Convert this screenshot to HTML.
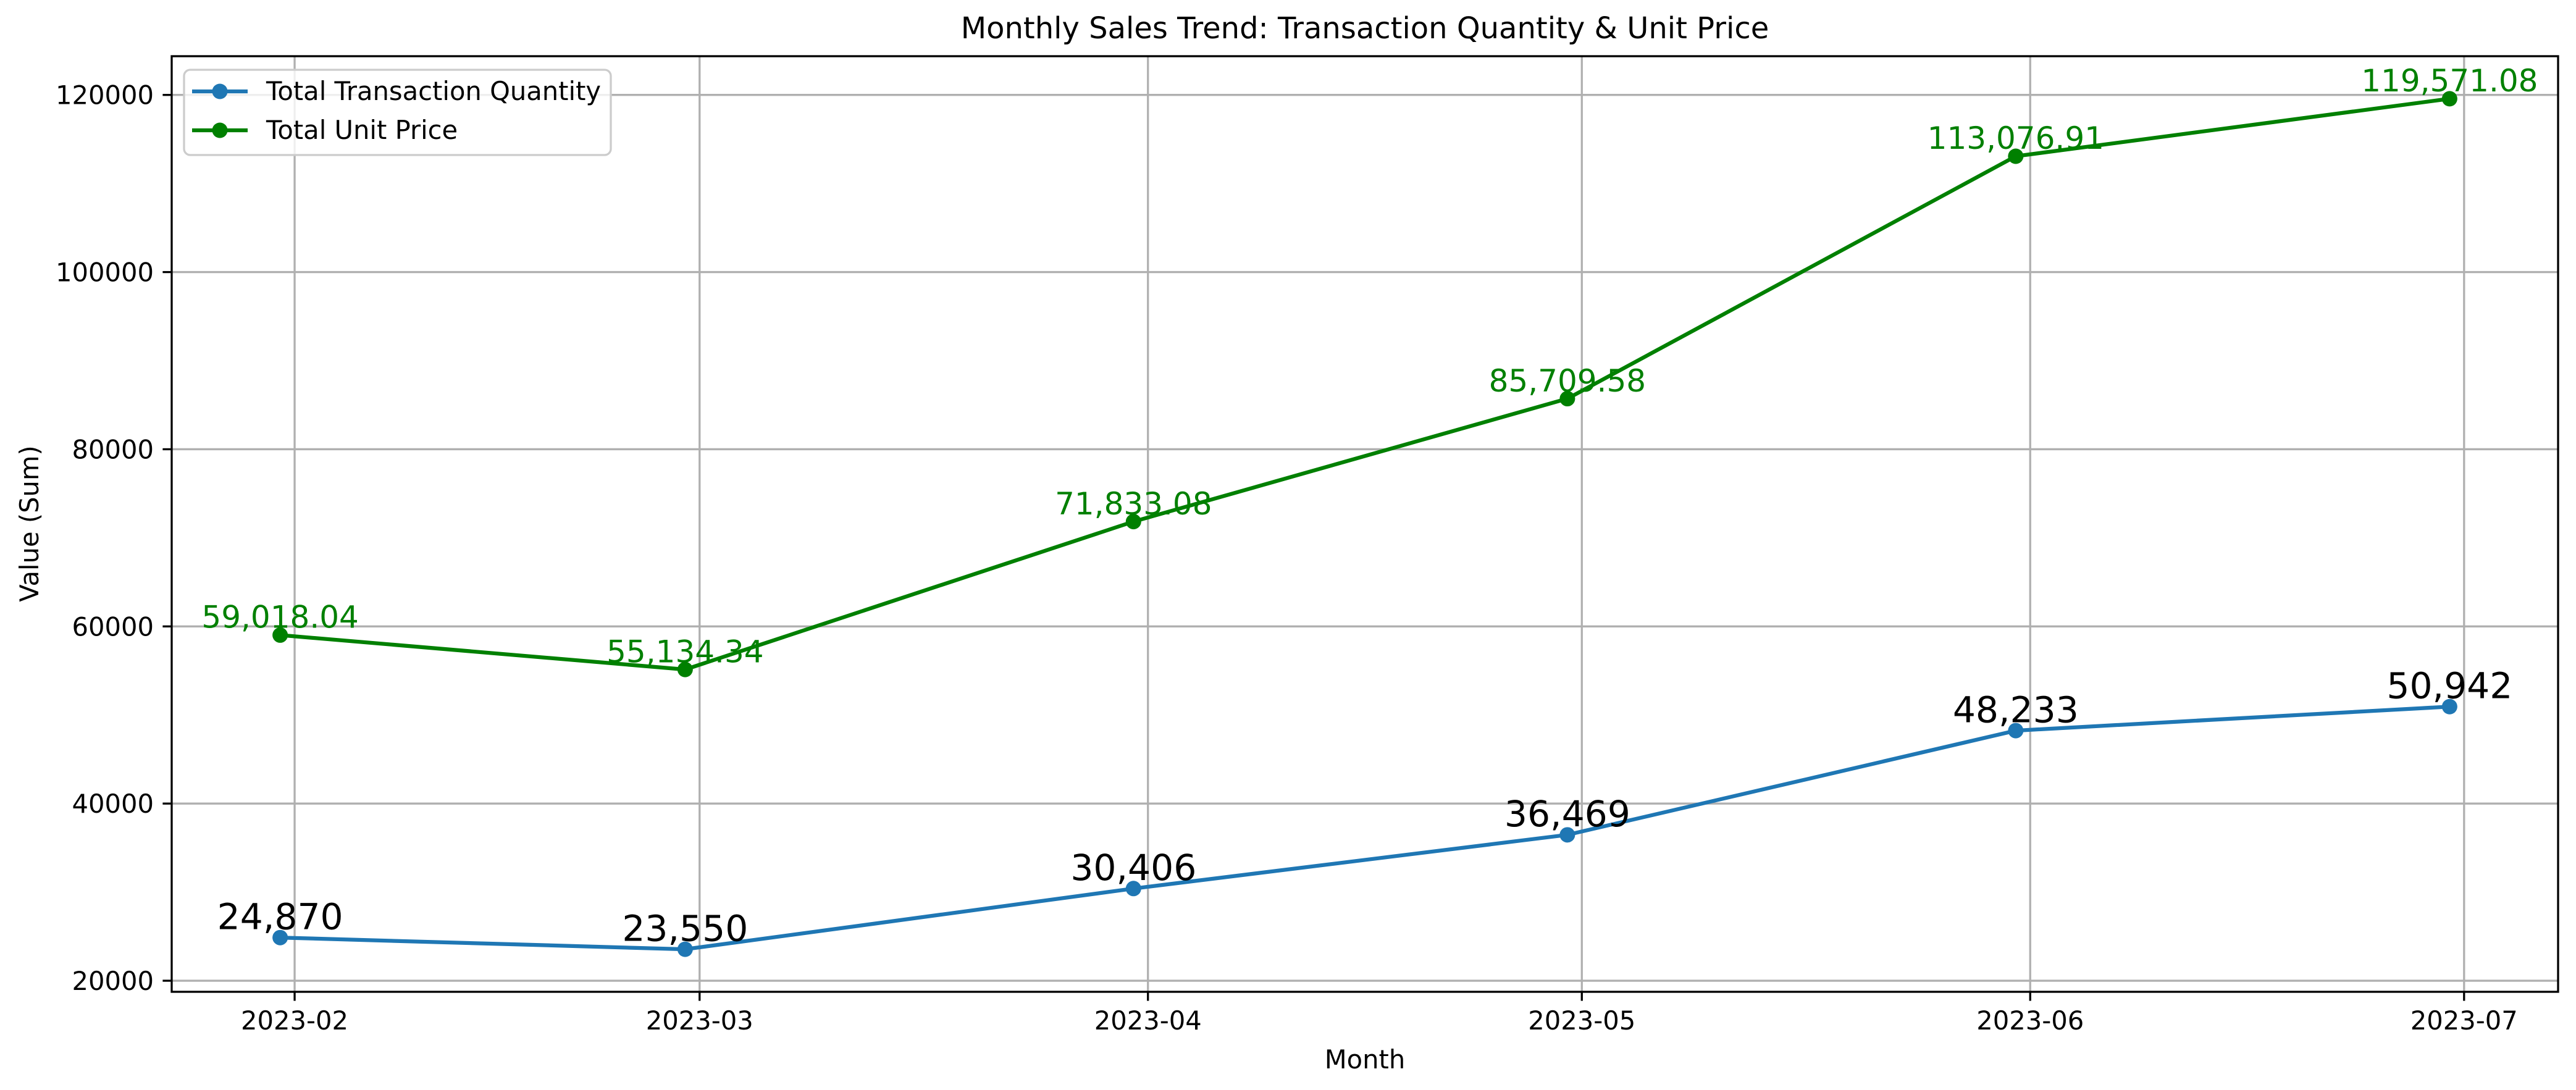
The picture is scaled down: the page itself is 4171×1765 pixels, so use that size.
<!DOCTYPE html>
<html><head><meta charset="utf-8"><style>
html,body{margin:0;padding:0;background:#fff;}
svg{display:block;font-family:"DejaVu Sans","Liberation Sans",sans-serif;}
</style></head><body>
<svg id="chart" width="4171" height="1765" viewBox="0 0 4171 1765" xmlns="http://www.w3.org/2000/svg">
<rect x="0" y="0" width="4171" height="1765" fill="#fff"/>
<g id="grid"></g>
<g id="series"></g>
<g id="axes"></g>
<text x="2210" y="62" font-size="48" text-anchor="middle">Monthly Sales Trend: Transaction Quantity &amp; Unit Price</text>
<text x="2210" y="1730" font-size="41.67" text-anchor="middle">Month</text>
<text x="62" y="848" font-size="41.67" text-anchor="middle" transform="rotate(-90 62 848)">Value (Sum)</text>
<g>
<rect x="298" y="113" width="691" height="138" rx="10" fill="#fff" fill-opacity="0.8" stroke="#cccccc" stroke-width="3.3"/>
<g>
<line x1="311" y1="148" x2="401" y2="148" stroke="#1f77b4" stroke-width="6.25"/>
<circle cx="356" cy="148" r="12.5" fill="#1f77b4"/>
<text x="431" y="162" font-size="41.67">Total Transaction Quantity</text>
</g>
<g>
<line x1="311" y1="211" x2="401" y2="211" stroke="#008000" stroke-width="6.25"/>
<circle cx="356" cy="211" r="12.5" fill="#008000"/>
<text x="431" y="225" font-size="41.67">Total Unit Price</text>
</g>
</g>
</svg>
<script>
const months = ["2023-01-31","2023-02-28","2023-03-31","2023-04-30","2023-05-31","2023-06-30"];
const quantity = [24870, 23550, 30406, 36469, 48233, 50942];
const unitPrice = [59018.04, 55134.34, 71833.08, 85709.58, 113076.91, 119571.08];
const quantityLabels = ["24,870","23,550","30,406","36,469","48,233","50,942"];
const priceLabels = ["59,018.04","55,134.34","71,833.08","85,709.58","113,076.91","119,571.08"];
const xTickLabels = ["2023-02","2023-03","2023-04","2023-05","2023-06","2023-07"];
const xTickDates = ["2023-02-01","2023-03-01","2023-04-01","2023-05-01","2023-06-01","2023-07-01"];
const yTicks = [20000, 40000, 60000, 80000, 100000, 120000];

const NS = "http://www.w3.org/2000/svg";
const L = 278, R = 4142, T = 91, B = 1606;
function day(s){ return Date.parse(s + "T00:00:00Z") / 86400000; }
const d0 = day(months[0]), d1 = day(months[months.length-1]);
const xm = (d1 - d0) * 0.05;
const xmin = d0 - xm, xmax = d1 + xm;
const allY = quantity.concat(unitPrice);
const ylo = Math.min(...allY), yhi = Math.max(...allY), ymg = (yhi - ylo) * 0.05;
const ymin = ylo - ymg, ymax = yhi + ymg;
function xs(s){ return L + (day(s) - xmin) / (xmax - xmin) * (R - L); }
function ys(v){ return B - (v - ymin) / (ymax - ymin) * (B - T); }
function mk(tag, attrs, parent){ const e = document.createElementNS(NS, tag); for (const k in attrs) e.setAttribute(k, attrs[k]); parent.appendChild(e); return e; }

const grid = document.getElementById('grid');
const axes = document.getElementById('axes');
const series = document.getElementById('series');

xTickDates.forEach((d, i) => {
  const x = xs(d);
  const g = mk('line', {x1:x, y1:T, x2:x, y2:B, stroke:'#b0b0b0', 'stroke-width':3.3}, grid);
  
  
  const t = mk('line', {x1:x, y1:B, x2:x, y2:B+14.6, stroke:'#000', 'stroke-width':3.3}, axes);
  
  
  const lb = mk('text', {x:x, y:1667, 'font-size':41.67, 'text-anchor':'middle'}, axes);
  lb.textContent = xTickLabels[i];
  
  
});
yTicks.forEach(v => {
  const y = ys(v);
  const g = mk('line', {x1:L, y1:y, x2:R, y2:y, stroke:'#b0b0b0', 'stroke-width':3.3}, grid);
  
  
  const t = mk('line', {x1:L-14.6, y1:y, x2:L, y2:y, stroke:'#000', 'stroke-width':3.3}, axes);
  
  
  const lb = mk('text', {x:L-29, y:y+15, 'font-size':41.67, 'text-anchor':'end'}, axes);
  lb.textContent = String(v);
  
  
});
const frame = mk('rect', {x:L, y:T, width:R-L, height:B-T, fill:'none', stroke:'#000', 'stroke-width':3.3}, axes);



function drawSeries(vals, labels, color, labelColor, fs, name){
  const pts = vals.map((v, i) => xs(months[i]) + ',' + ys(v)).join(' ');
  const pl = mk('polyline', {points:pts, fill:'none', stroke:color, 'stroke-width':6.25, 'stroke-linejoin':'round'}, series);
  
  
  vals.forEach((v, i) => {
    const cx = xs(months[i]), cy = ys(v);
    const c = mk('circle', {cx:cx, cy:cy, r:12.5, fill:color}, series);
    
    
    const t = mk('text', {x:cx, y:cy - fs*0.236, 'font-size':fs, 'text-anchor':'middle', fill:labelColor}, series);
    t.textContent = labels[i];
    
    
  });
}
drawSeries(unitPrice, priceLabels, '#008000', '#008000', 50, 'unit-price');
drawSeries(quantity, quantityLabels, '#1f77b4', '#000000', 58.3, 'quantity');
</script>
</body></html>
